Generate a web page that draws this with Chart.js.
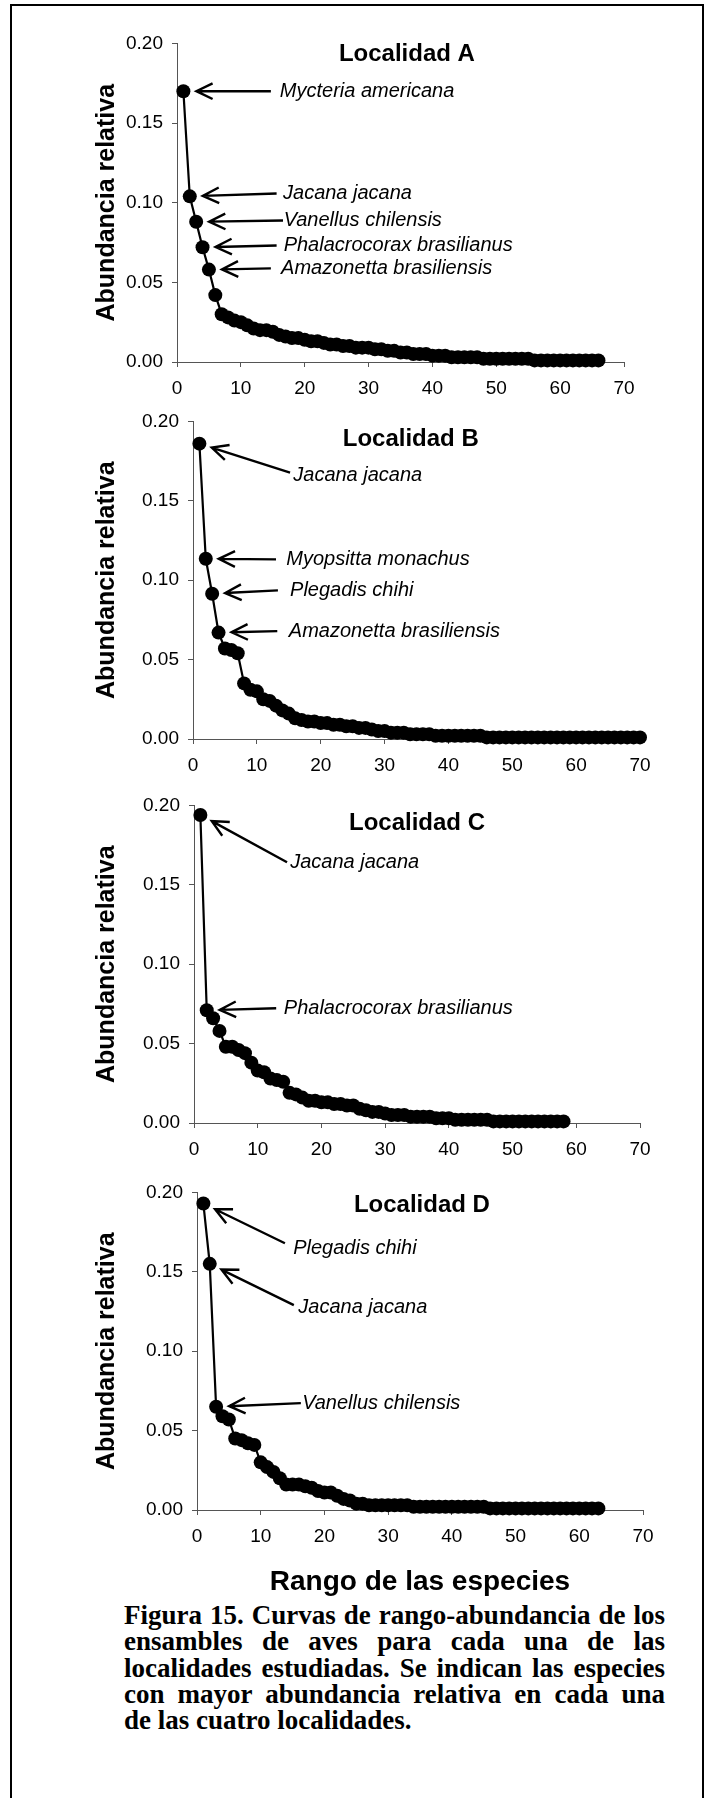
<!DOCTYPE html>
<html lang="es">
<head>
<meta charset="utf-8">
<title>Figura 15</title>
<script src="https://cdn.jsdelivr.net/npm/chart.js@4.4.1/dist/chart.umd.min.js"></script>
<style>
  html,body{margin:0;padding:0;background:#fff;}
  body{width:709px;height:1798px;position:relative;overflow:hidden;font-family:"Liberation Sans",Arial,sans-serif;}
  .marco{position:absolute;left:10px;top:4px;width:690px;height:1820px;border:2px solid #000;border-bottom:none;}
  .panel{position:absolute;left:0;}
  .leyenda{position:absolute;left:124px;top:1602px;width:541px;font-family:"Liberation Serif","Times New Roman",serif;font-weight:bold;font-size:27px;line-height:26.3px;color:#000;}
  .leyenda div{text-align:justify;text-align-last:justify;white-space:nowrap;}
  .leyenda div.ultima{text-align-last:left;}
</style>
</head>
<body>
<div class="marco"></div>
<canvas id="panelA" class="panel"></canvas>
<canvas id="panelB" class="panel"></canvas>
<canvas id="panelC" class="panel"></canvas>
<canvas id="panelD" class="panel"></canvas>
<div class="leyenda">
  <div>Figura 15. Curvas de rango-abundancia de los</div>
  <div>ensambles de aves para cada una de las</div>
  <div>localidades estudiadas. Se indican las especies</div>
  <div>con mayor abundancia relativa en cada una</div>
  <div class="ultima">de las cuatro localidades.</div>
</div>
<script>
// Abundancia relativa por rango (1..n)
const abundanciaA = [
  0.170, 0.104, 0.088, 0.072, 0.058, 0.042, 0.030, 0.028, 0.026, 0.025,
  0.023, 0.021, 0.020, 0.020, 0.019, 0.017, 0.016, 0.015, 0.015, 0.014,
  0.013, 0.013, 0.012, 0.011, 0.011, 0.010, 0.010, 0.009, 0.009, 0.009,
  0.008, 0.008, 0.007, 0.007, 0.006, 0.006, 0.005, 0.005, 0.005, 0.004,
  0.004, 0.004, 0.003, 0.003, 0.003, 0.003, 0.003, 0.002, 0.002, 0.002,
  0.002, 0.002, 0.002, 0.002, 0.002, 0.001, 0.001, 0.001, 0.001, 0.001,
  0.001, 0.001, 0.001, 0.001, 0.001, 0.001
];
const abundanciaB = [
  0.186, 0.1135, 0.0915, 0.067, 0.057, 0.056, 0.054, 0.035, 0.031, 0.030,
  0.025, 0.024, 0.021, 0.018, 0.016, 0.013, 0.012, 0.011, 0.011, 0.010,
  0.010, 0.009, 0.009, 0.008, 0.008, 0.007, 0.007, 0.006, 0.005, 0.005,
  0.004, 0.004, 0.004, 0.003, 0.003, 0.003, 0.003, 0.002, 0.002, 0.002,
  0.002, 0.002, 0.002, 0.002, 0.002, 0.001, 0.001, 0.001, 0.001, 0.001,
  0.001, 0.001, 0.001, 0.001, 0.001, 0.001, 0.001, 0.001, 0.001, 0.001,
  0.001, 0.001, 0.001, 0.001, 0.001, 0.001, 0.001, 0.001, 0.001, 0.001
];
const abundanciaC = [
  0.194, 0.071, 0.066, 0.058, 0.048, 0.048, 0.046, 0.044, 0.038, 0.033,
  0.032, 0.028, 0.027, 0.026, 0.019, 0.018, 0.016, 0.014, 0.014, 0.013,
  0.013, 0.012, 0.012, 0.011, 0.011, 0.009, 0.008, 0.007, 0.007, 0.006,
  0.005, 0.005, 0.005, 0.004, 0.004, 0.004, 0.004, 0.003, 0.003, 0.003,
  0.002, 0.002, 0.002, 0.002, 0.002, 0.002, 0.001, 0.001, 0.001, 0.001,
  0.001, 0.001, 0.001, 0.001, 0.001, 0.001, 0.001, 0.001
];
const abundanciaD = [
  0.193, 0.155, 0.065, 0.059, 0.057, 0.045, 0.044, 0.042, 0.041, 0.030,
  0.027, 0.024, 0.020, 0.016, 0.016, 0.016, 0.015, 0.014, 0.012, 0.011,
  0.011, 0.009, 0.007, 0.006, 0.004, 0.004, 0.003, 0.003, 0.003, 0.003,
  0.003, 0.003, 0.003, 0.002, 0.002, 0.002, 0.002, 0.002, 0.002, 0.002,
  0.002, 0.002, 0.002, 0.002, 0.002, 0.001, 0.001, 0.001, 0.001, 0.001,
  0.001, 0.001, 0.001, 0.001, 0.001, 0.001, 0.001, 0.001, 0.001, 0.001,
  0.001, 0.001, 0.001
];

// Especies señaladas (en orden de rango 1, 2, ...)
const especiesA = ['Mycteria americana', 'Jacana jacana', 'Vanellus chilensis', 'Phalacrocorax brasilianus', 'Amazonetta brasiliensis'];
const especiesB = ['Jacana jacana', 'Myopsitta monachus', 'Plegadis chihi', 'Amazonetta brasiliensis'];
const especiesC = ['Jacana jacana', 'Phalacrocorax brasilianus'];
const especiesD = ['Plegadis chihi', 'Jacana jacana', 'Vanellus chilensis'];

const localidades = ['Localidad A', 'Localidad B', 'Localidad C', 'Localidad D'];
const ticksY = [0, 0.05, 0.10, 0.15, 0.20];
const ticksX = [0, 10, 20, 30, 40, 50, 60, 70];

const FUENTE = '"Liberation Sans", Arial, sans-serif';

// posiciones de las flechas y textos, en unidades de los ejes
const notasA = [
  { cola:[14.7, 0.170], texto:[16.1, 0.170] },
  { cola:[15.6, 0.1058], texto:[16.6, 0.1058] },
  { cola:[16.6, 0.0888], texto:[16.7, 0.0888] },
  { cola:[15.6, 0.0731], texto:[16.7, 0.0731] },
  { cola:[14.7, 0.0588], texto:[16.3, 0.0588] }
];
const notasB = [
  { cola:[15.2, 0.1678], texto:[15.7, 0.1659] },
  { cola:[13.0, 0.1131], texto:[14.6, 0.1131] },
  { cola:[13.3, 0.0936], texto:[15.2, 0.0936] },
  { cola:[13.2, 0.0679], texto:[15.0, 0.0679] }
];
const notasC = [
  { cola:[14.6, 0.1642], texto:[15.1, 0.1642] },
  { cola:[12.9, 0.0723], texto:[14.1, 0.0723] }
];
const notasD = [
  { cola:[13.8, 0.168], texto:[15.1, 0.1648] },
  { cola:[15.2, 0.129], texto:[15.9, 0.1277] },
  { cola:[16.3, 0.0673], texto:[16.5, 0.0673] }
];

function flecha(ctx, x0, y0, x1, y1){
  const ang = Math.atan2(y1 - y0, x1 - x0);
  const largo = 18, abre = 0.45;
  ctx.beginPath();
  ctx.moveTo(x0, y0);
  ctx.lineTo(x1, y1);
  ctx.moveTo(x1 - largo * Math.cos(ang - abre), y1 - largo * Math.sin(ang - abre));
  ctx.lineTo(x1, y1);
  ctx.lineTo(x1 - largo * Math.cos(ang + abre), y1 - largo * Math.sin(ang + abre));
  ctx.stroke();
}

const pluginAnotaciones = {
  id: 'anotaciones',
  afterDatasetsDraw(chart, args, opts){
    const { ctx } = chart;
    const sx = chart.scales.x, sy = chart.scales.y;
    const valores = chart.data.datasets[0].data;
    ctx.save();
    ctx.fillStyle = '#000';
    ctx.strokeStyle = '#000';
    ctx.textBaseline = 'middle';

    ctx.font = 'bold 24px ' + FUENTE;
    ctx.textAlign = 'center';
    ctx.fillText(opts.titulo, sx.getPixelForValue(opts.posTitulo[0]), sy.getPixelForValue(opts.posTitulo[1]));

    ctx.font = 'italic 20px ' + FUENTE;
    ctx.textAlign = 'left';
    ctx.lineWidth = 2.4;
    opts.notas.forEach((n, i) => {
      const p = valores[i];
      const px = sx.getPixelForValue(p.x), py = sy.getPixelForValue(p.y);
      const cx = sx.getPixelForValue(n.cola[0]), cy = sy.getPixelForValue(n.cola[1]);
      const d = Math.hypot(cx - px, cy - py);
      const tx = px + (cx - px) * 13 / d, ty = py + (cy - py) * 13 / d;
      flecha(ctx, cx, cy, tx, ty);
      ctx.fillText(opts.especies[i], sx.getPixelForValue(n.texto[0]), sy.getPixelForValue(n.texto[1]));
    });
    ctx.restore();
  }
};

function crearPanel(id, valores, especies, notas, titulo, posTitulo, geo, tituloX){
  const canvas = document.getElementById(id);
  const alto = 20 + geo.alto + (tituloX ? 90 : 40);
  canvas.width = 709;
  canvas.height = alto;
  canvas.style.top = (geo.arriba - 20) + 'px';

  const datos = valores.map((v, i) => ({ x: i + 1, y: v }));

  return new Chart(canvas, {
    type: 'line',
    data: {
      datasets: [{
        data: datos,
        borderColor: '#000',
        backgroundColor: '#000',
        borderWidth: 2.2,
        pointRadius: 7,
        pointBorderWidth: 0,
        pointBackgroundColor: '#000',
        tension: 0,
        clip: false
      }]
    },
    options: {
      responsive: false,
      animation: false,
      events: [],
      layout: { padding: { left: 0, top: 20, right: 709 - geo.derecha, bottom: 0 } },
      plugins: {
        legend: { display: false },
        tooltip: { enabled: false },
        anotaciones: { titulo, posTitulo, notas, especies }
      },
      scales: {
        x: {
          type: 'linear',
          min: 0, max: 70,
          afterFit: s => { s.height = tituloX ? 90 : 40; },
          afterBuildTicks: s => { s.ticks = ticksX.map(v => ({ value: v })); },
          ticks: { color: '#000', font: { family: FUENTE, size: 19 }, padding: 10, maxRotation: 0 },
          grid: { drawOnChartArea: false, drawTicks: true, tickLength: 5, color: '#555' },
          border: { color: '#555', width: 1 },
          title: {
            display: !!tituloX,
            text: tituloX || '',
            color: '#000',
            font: { family: FUENTE, size: 28, weight: 'bold', lineHeight: 1.2 },
            padding: { top: 0, bottom: 1 }
          }
        },
        y: {
          min: 0, max: 0.2,
          afterFit: s => { s.width = geo.izquierda; },
          afterBuildTicks: s => { s.ticks = ticksY.map(v => ({ value: v })); },
          ticks: { color: '#000', font: { family: FUENTE, size: 19 }, padding: 9, callback: v => v.toFixed(2) },
          grid: { drawOnChartArea: false, drawTicks: true, tickLength: 5, color: '#555' },
          border: { color: '#555', width: 1 },
          title: {
            display: true,
            text: 'Abundancia relativa',
            color: '#000',
            font: { family: FUENTE, size: 25, weight: 'bold', lineHeight: 1.2 },
            padding: { top: 92, bottom: 0 }
          }
        }
      }
    },
    plugins: [pluginAnotaciones]
  });
}

crearPanel('panelA', abundanciaA, especiesA, notasA, localidades[0], [36, 0.193], { izquierda: 177, derecha: 624, arriba: 43, alto: 319 }, null);
crearPanel('panelB', abundanciaB, especiesB, notasB, localidades[1], [34.1, 0.1885], { izquierda: 193, derecha: 640, arriba: 421, alto: 318 }, null);
crearPanel('panelC', abundanciaC, especiesC, notasC, localidades[2], [35, 0.1887], { izquierda: 194, derecha: 640, arriba: 805, alto: 318 }, null);
crearPanel('panelD', abundanciaD, especiesD, notasD, localidades[3], [35.3, 0.192], { izquierda: 197, derecha: 643, arriba: 1192, alto: 318 }, 'Rango de las especies');
</script>
</body>
</html>
